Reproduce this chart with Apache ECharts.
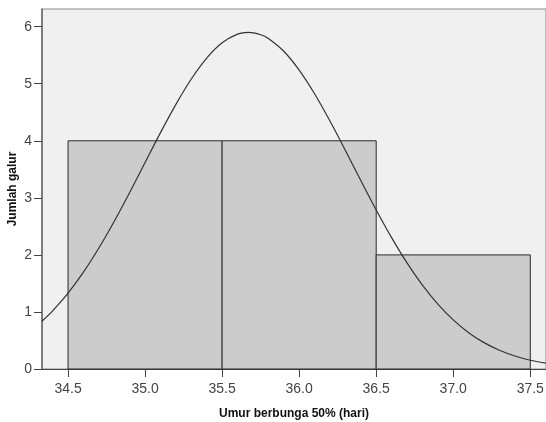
<!DOCTYPE html>
<html>
<head>
<meta charset="utf-8">
<script src="https://cdn.jsdelivr.net/npm/echarts@6/dist/echarts.min.js"></script>
<style>
html,body{margin:0;padding:0;background:#fff;}
#chart{width:546px;height:422px;}
</style>
</head>
<body>
<div id="chart"></div>
<script>
// Histogram bins: [start, end, count]
var binStarts = [34.5, 35.5, 36.5];
var binEnds   = [35.5, 36.5, 37.5];
var binCounts = [4, 4, 2];

// Normal curve points
var curveX = [34.33, 34.4, 34.5, 34.6, 34.7, 34.8, 34.9, 35.0, 35.1, 35.2, 35.3, 35.4, 35.5, 35.6, 35.67, 35.75, 35.8, 35.9, 36.0, 36.1, 36.2, 36.3, 36.4, 36.5, 36.6, 36.7, 36.8, 36.9, 37.0, 37.1, 37.2, 37.3, 37.4, 37.5, 37.6];
var curveY = [0.836, 1.020, 1.330, 1.697, 2.120, 2.590, 3.095, 3.620, 4.143, 4.639, 5.083, 5.450, 5.718, 5.869, 5.900, 5.859, 5.793, 5.570, 5.240, 4.825, 4.346, 3.831, 3.304, 2.788, 2.302, 1.860, 1.470, 1.137, 0.861, 0.637, 0.462, 0.328, 0.227, 0.154, 0.103];

var xTicks = [34.5, 35.0, 35.5, 36.0, 36.5, 37.0, 37.5];
var yTicks = [0, 1, 2, 3, 4, 5, 6];

var xName = 'Umur berbunga 50% (hari)';
var yName = 'Jumlah galur';

var barData = binStarts.map(function (s, i) { return [s, binEnds[i], binCounts[i]]; });
var lineData = curveX.map(function (x, i) { return [x, curveY[i]]; });

var chart = echarts.init(document.getElementById('chart'), null, {renderer: 'canvas'});
var labelFont = 'Liberation Sans, Arial, sans-serif';
chart.setOption({
  animation: false,
  backgroundColor: '#ffffff',
  grid: {
    left: 42, right: 0, top: 9, bottom: 53,
    outerBoundsMode: 'none', containLabel: false,
    show: true, backgroundColor: '#f0f0f0', borderColor: '#8a8a8a', borderWidth: 1
  },
  xAxis: {
    type: 'value', min: 34.331, max: 37.602,
    name: xName, nameLocation: 'middle', nameGap: 39, nameMoveOverlap: false,
    nameTextStyle: {fontFamily: labelFont, fontSize: 12, fontWeight: 'bold', color: '#111'},
    axisLine: {show: true, lineStyle: {color: '#444', width: 1}},
    axisTick: {show: true, length: 8, lineStyle: {color: '#444'}, customValues: xTicks},
    axisLabel: {customValues: xTicks, margin: 13, fontFamily: labelFont, fontSize: 14, color: '#444',
      formatter: function (v) { return v.toFixed(1); }},
    splitLine: {show: false}
  },
  yAxis: {
    type: 'value', min: 0, max: 6.31,
    name: yName, nameLocation: 'middle', nameGap: 23, nameRotate: 90, nameMoveOverlap: false,
    nameTextStyle: {fontFamily: labelFont, fontSize: 12, fontWeight: 'bold', color: '#111'},
    axisLine: {show: true, lineStyle: {color: '#666', width: 1.5}},
    axisTick: {show: true, length: 8, lineStyle: {color: '#444'}, customValues: yTicks},
    axisLabel: {customValues: yTicks, margin: 10, fontFamily: labelFont, fontSize: 14, color: '#444'},
    splitLine: {show: false}
  },
  series: [
    {
      type: 'custom',
      data: barData,
      encode: {x: [0, 1], y: 2},
      renderItem: function (params, api) {
        var p0 = api.coord([api.value(0), api.value(2)]);
        var p1 = api.coord([api.value(1), 0]);
        return {
          type: 'rect',
          shape: {x: p0[0], y: p0[1], width: p1[0] - p0[0], height: p1[1] - p0[1]},
          style: {fill: '#cccccc', stroke: '#2a2a2a', lineWidth: 1}
        };
      },
      z: 2
    },
    {
      type: 'line',
      data: lineData,
      smooth: 0.3,
      symbol: 'none',
      lineStyle: {color: '#333', width: 1.2},
      z: 3
    }
  ]
});
</script>
</body>
</html>
